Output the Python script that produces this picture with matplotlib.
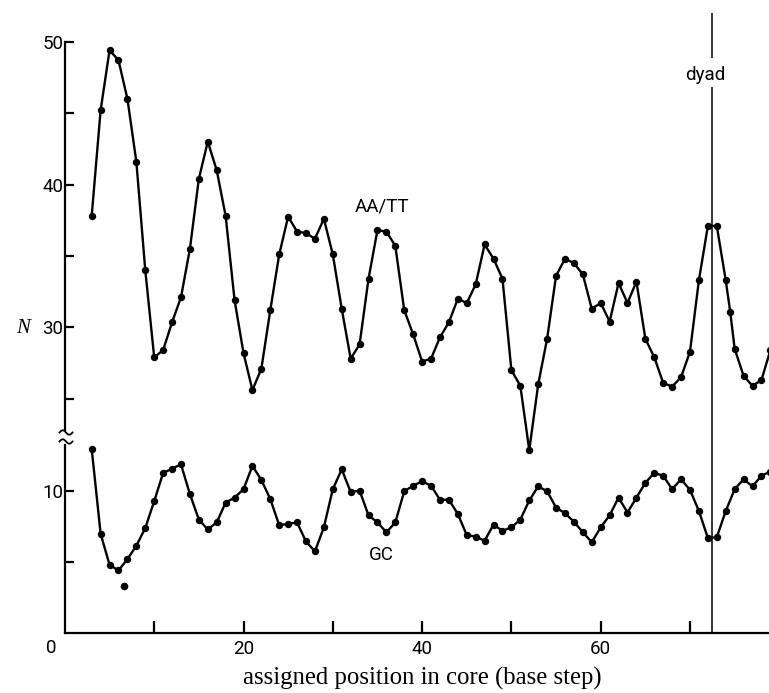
import numpy as np
import matplotlib
matplotlib.use("Agg")
import matplotlib.pyplot as plt
from matplotlib.lines import Line2D

# ---------------- data ----------------
aatt_pos = list(range(3, 75)) + [74.5] + list(range(75, 80))
aatt_n = [37.8, 45.2, 49.4, 48.7, 46.0, 41.6, 34.0, 27.9, 28.4, 30.35,
          32.1, 35.5, 40.4, 43.0, 41.0, 37.8, 31.9, 28.2, 25.6, 27.1,
          31.2, 35.1, 37.75, 36.7, 36.6, 36.2, 37.6, 35.1, 31.3, 27.8,
          28.8, 33.4, 36.8, 36.7, 35.7, 31.2, 29.5, 27.6, 27.8, 29.3,
          30.35, 32.0, 31.7, 33.0, 35.8, 34.8, 33.4, 27.0, 25.9, 21.4,
          26.0, 29.2, 33.6, 34.8, 34.5, 33.7, 31.3, 31.7, 30.4, 33.1,
          31.7, 33.2, 29.2, 27.9, 26.1, 25.85, 26.5, 28.3, 33.3, 37.1,
          37.1, 33.3, 31.1, 28.5, 26.6, 25.9, 26.3, 28.4]

gc_pos = list(range(3, 80))
gc_n = [13.0, 7.0, 4.8, 4.4, 5.2, 6.15, 7.4, 9.3, 11.3, 11.6,
        11.9, 9.8, 8.0, 7.3, 7.8, 9.2, 9.55, 10.15, 11.8, 10.8,
        9.45, 7.6, 7.7, 7.8, 6.45, 5.75, 7.45, 10.15, 11.55, 9.95,
        10.05, 8.3, 7.8, 7.1, 7.8, 10.0, 10.4, 10.7, 10.4, 9.4,
        9.4, 8.4, 6.9, 6.8, 6.5, 7.65, 7.2, 7.45, 8.0, 9.35,
        10.35, 10.0, 8.85, 8.45, 7.85, 7.1, 6.4, 7.45, 8.3, 9.55,
        8.5, 9.55, 10.6, 11.3, 11.1, 10.15, 10.85, 10.1, 8.6, 6.7,
        6.75, 8.6, 10.15, 10.85, 10.35, 11.1, 11.4]

stray_pos = [6.6]
stray_n = [3.3]

dyad_pos = 72.5

x_ticks = [10, 20, 30, 40, 50, 60, 70]
x_labels = ["", "20", "", "40", "", "60", ""]
upper_ticks = [25, 30, 35, 40, 45, 50]
upper_labels = ["", "30", "", "40", "", "50"]
lower_ticks = [5, 10]
lower_labels = ["", "10"]

# ---------------- layout ----------------
W, H = 769, 693
fig = plt.figure(figsize=(W / 100, H / 100), dpi=100)

def box(left, top, right, bottom):
    return [left / W, 1 - bottom / H, (right - left) / W, (bottom - top) / H]

UP_SCALE = 14.28   # px per unit (upper)
LO_SCALE = 14.14   # px per unit (lower)
X0, XR = 64.9, 769.0
X_MAX = (XR - X0) / 8.93

up_top, up_bot = 41.7, 460.0
lo_top, lo_bot = 445.0, 632.7

ax_up = fig.add_axes(box(X0, up_top, XR, up_bot))
ax_lo = fig.add_axes(box(X0, lo_top, XR, lo_bot))

for ax in (ax_up, ax_lo):
    ax.set_facecolor("none")
    ax.set_xlim(0, X_MAX)
    for s in ("top", "right"):
        ax.spines[s].set_visible(False)
    ax.spines["left"].set_linewidth(1.6)

ax_up.set_ylim(50 - (up_bot - up_top) / UP_SCALE, 50)
ax_lo.set_ylim(0, (lo_bot - lo_top) / LO_SCALE)

ax_up.spines["bottom"].set_visible(False)
ax_up.spines["left"].set_bounds(50 - (430 - up_top) / UP_SCALE, 50)
ax_up.set_xticks([])
ax_lo.spines["bottom"].set_linewidth(1.6)

SANS = ["Roboto", "DejaVu Sans"]
tick_font = dict(family=SANS, size=13.5)

ax_up.set_yticks(upper_ticks)
ax_up.set_yticklabels(upper_labels, **tick_font)
ax_lo.set_yticks(lower_ticks)
ax_lo.set_yticklabels(lower_labels, **tick_font)
ax_lo.set_xticks(x_ticks)
ax_lo.set_xticklabels(x_labels, **tick_font)

for ax in (ax_up, ax_lo):
    ax.tick_params(axis="y", direction="in", length=6.5, width=1.6, pad=1.2)
ax_lo.tick_params(axis="x", direction="in", length=8.5, width=1.6, pad=5.5)

# ---------------- data lines ----------------
style = dict(color="black", lw=1.7, marker="o", ms=4.3, mfc="black", mec="black")
ax_up.plot(aatt_pos, aatt_n, **style)
ax_lo.plot(gc_pos, gc_n, **style)
ax_lo.plot(stray_pos, stray_n, ls="none", marker="o", ms=4.5, color="black")

# dyad line (drawn in the upper axes' units, extending down to the x axis)
axis_val = 50 - (lo_bot - up_top) / UP_SCALE
gap_lo = 50 - (87 - up_top) / UP_SCALE
gap_hi = 50 - (58 - up_top) / UP_SCALE
line_top = 50 + (up_top - 12.7) / UP_SCALE
ax_up.vlines(dyad_pos, axis_val, gap_lo, color="black", lw=1.1, clip_on=False)
ax_up.vlines(dyad_pos, gap_hi, line_top, color="black", lw=1.1, clip_on=False)

lab_font = dict(family=SANS, size=13.5)
ax_up.text(71.7, 50 - (75 - up_top) / UP_SCALE, "dyad", ha="center", va="center", **lab_font)
ax_up.text(35.5, 38.45, "AA/TT", ha="center", va="center", **lab_font)
ax_lo.text(35.4, 5.46, "GC", ha="center", va="center", **lab_font)

# corner 0 label
fig.text(51.5 / W, 1 - 648.3 / H, "0", ha="center", va="center", **tick_font)

# axis labels
fig.text(422.5 / W, 1 - 685 / H, "assigned position in core (base step)",
         ha="center", va="baseline", family=["Liberation Serif", "DejaVu Serif"], size=17.8)
fig.text(23 / W, 1 - 329 / H, "N", ha="center", va="center",
         family=["Liberation Serif", "DejaVu Serif"], style="italic", size=15)

# axis break marks
t = np.linspace(-1, 1, 40)
for cy in (432.5, 441.5):
    xs = (66 + 6.5 * t) / W
    ys = 1 - (cy + 2.2 * np.sin(np.pi * t)) / H
    fig.add_artist(Line2D(xs, ys, transform=fig.transFigure, color="black", lw=1.3))

fig.savefig("out.png", dpi=100)
